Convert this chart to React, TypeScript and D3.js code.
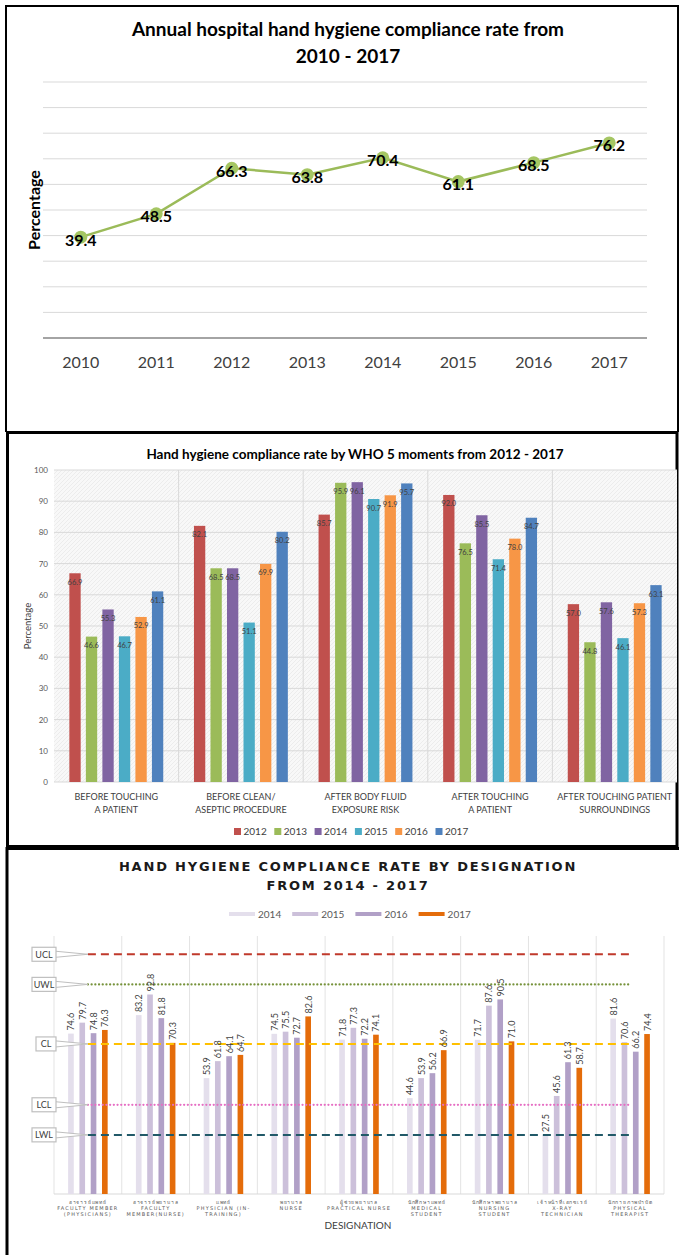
import React, { useEffect, useRef } from "react";
import * as d3 from "d3";

// chart 1: annual rate
const years = ["2010", "2011", "2012", "2013", "2014", "2015", "2016", "2017"];
const annualRate = [39.4, 48.5, 66.3, 63.8, 70.4, 61.1, 68.5, 76.2];

// chart 2: WHO 5 moments
const moments = [
  ["BEFORE TOUCHING", "A PATIENT"],
  ["BEFORE CLEAN/", "ASEPTIC PROCEDURE"],
  ["AFTER BODY FLUID", "EXPOSURE RISK"],
  ["AFTER TOUCHING", "A PATIENT"],
  ["AFTER TOUCHING PATIENT", "SURROUNDINGS"],
];
const momentYears = ["2012", "2013", "2014", "2015", "2016", "2017"];
const moment2012 = [66.9, 82.1, 85.7, 92.0, 57.0];
const moment2013 = [46.6, 68.5, 95.9, 76.5, 44.8];
const moment2014 = [55.3, 68.5, 96.1, 85.5, 57.6];
const moment2015 = [46.7, 51.1, 90.7, 71.4, 46.1];
const moment2016 = [52.9, 69.9, 91.9, 78.0, 57.3];
const moment2017 = [61.1, 80.2, 95.7, 84.7, 63.1];
const momentColors = ["#c0504d", "#9bbb59", "#8064a2", "#4bacc6", "#f79646", "#4f81bd"];

// chart 3: by designation
const designations = [
  ["อาจารย์แพทย์", "FACULTY MEMBER", "(PHYSICIANS)"],
  ["อาจารย์พยาบาล", "FACULTY", "MEMBER(NURSE)"],
  ["แพทย์", "PHYSICIAN (IN-", "TRAINING)"],
  ["พยาบาล", "NURSE"],
  ["ผู้ช่วยพยาบาล", "PRACTICAL NURSE"],
  ["นักศึกษาแพทย์", "MEDICAL", "STUDENT"],
  ["นักศึกษาพยาบาล", "NURSING", "STUDENT"],
  ["เจ้าหน้าที่เอกซเรย์", "X-RAY", "TECHNICIAN"],
  ["นักกายภาพบำบัด", "PHYSICAL", "THERAPIST"],
];
const desigYears = ["2014", "2015", "2016", "2017"];
const desig2014 = [74.6, 83.2, 53.9, 74.5, 71.8, 44.6, 71.7, 27.5, 81.6];
const desig2015 = [79.7, 92.8, 61.8, 75.5, 77.3, 53.9, 87.6, 45.6, 70.6];
const desig2016 = [74.8, 81.8, 64.1, 72.7, 72.2, 56.2, 90.5, 61.3, 66.2];
const desig2017 = [76.3, 70.3, 64.7, 82.6, 74.1, 66.9, 71.0, 58.7, 74.4];
const desigColors = ["#e4dfec", "#ccc0da", "#b1a0c7", "#e46c0a"];

const limitNames = ["UCL", "UWL", "CL", "LCL", "LWL"];
const limitValues = [111.5, 97.5, 69.8, 41.5, 27.5];
const limitColors = ["#c0392b", "#77933c", "#ffc000", "#e66fc4", "#215968"];
const limitDash = ["8,5", "0.1,3.6", "8,5", "0.1,3.6", "8,5"];

const SANS = "Lato, 'Open Sans', sans-serif";

function drawAnnual(svg: any) {
  const g = svg.append("g");
  g.append("path")
    .attr("d", "M6,432 V6 H678 V432")
    .attr("fill", "none")
    .attr("stroke", "#000")
    .attr("stroke-width", 2);

  const titles = ["Annual hospital hand hygiene compliance rate from", "2010 - 2017"];
  titles.forEach((t, i) => {
    g.append("text")
      .attr("x", 348)
      .attr("y", 36 + i * 27)
      .attr("text-anchor", "middle")
      .attr("font-family", SANS)
      .attr("font-weight", "bold")
      .attr("font-size", 19)
      .attr("fill", "#000")
      .text(t);
  });

  const x = d3.scaleBand().domain(years).range([43, 647]);
  const y = d3.scaleLinear().domain([0, 100]).range([338, 82]);

  // gridlines
  g.append("g")
    .selectAll("line")
    .data(d3.range(10, 101, 10))
    .enter()
    .append("line")
    .attr("x1", 43)
    .attr("x2", 647)
    .attr("y1", (d: number) => y(d))
    .attr("y2", (d: number) => y(d))
    .attr("stroke", "#d9d9d9")
    .attr("stroke-width", 1);
  g.append("line")
    .attr("x1", 43)
    .attr("x2", 647)
    .attr("y1", y(0))
    .attr("y2", y(0))
    .attr("stroke", "#868686")
    .attr("stroke-width", 1.5);

  g.append("g")
    .selectAll("text")
    .data(years)
    .enter()
    .append("text")
    .attr("x", (d: string) => x(d)! + x.bandwidth() / 2)
    .attr("y", 368)
    .attr("text-anchor", "middle")
    .attr("font-family", SANS)
    .attr("font-size", 16)
    .attr("fill", "#404040")
    .text((d: string) => d);

  g.append("text")
    .attr("transform", "translate(33,210) rotate(-90)")
    .attr("text-anchor", "middle")
    .attr("dominant-baseline", "central")
    .attr("font-family", SANS)
    .attr("font-weight", "bold")
    .attr("font-size", 16)
    .attr("fill", "#000")
    .text("Percentage");

  const pts = years.map((yr, i) => ({ yr, v: annualRate[i] }));
  const cx = (d: any) => x(d.yr)! + x.bandwidth() / 2;
  g.append("path")
    .datum(pts)
    .attr("fill", "none")
    .attr("stroke", "#9bbb59")
    .attr("stroke-width", 2.5)
    .attr(
      "d",
      d3
        .line()
        .x((d: any) => cx(d))
        .y((d: any) => y(d.v)) as any
    );
  g.append("g")
    .selectAll("circle")
    .data(pts)
    .enter()
    .append("circle")
    .attr("cx", cx)
    .attr("cy", (d: any) => y(d.v))
    .attr("r", 6.5)
    .attr("fill", "#a5c663");
  g.append("g")
    .selectAll("text")
    .data(pts)
    .enter()
    .append("text")
    .attr("x", cx)
    .attr("y", (d: any) => y(d.v) + 2)
    .attr("text-anchor", "middle")
    .attr("dominant-baseline", "central")
    .attr("font-family", SANS)
    .attr("font-weight", "bold")
    .attr("font-size", 16)
    .attr("fill", "#000")
    .text((d: any) => d.v.toFixed(1));
}

function drawMoments(svg: any) {
  const g = svg.append("g");
  const defs = svg.append("defs");
  const pat = defs
    .append("pattern")
    .attr("id", "hatch")
    .attr("width", 4)
    .attr("height", 4)
    .attr("patternUnits", "userSpaceOnUse");
  pat.append("rect").attr("width", 4).attr("height", 4).attr("fill", "#f8f8f8");
  pat.append("path").attr("d", "M0,4 L4,0 M-1,1 L1,-1 M3,5 L5,3").attr("stroke", "#ececec").attr("stroke-width", 1);

  g.append("rect")
    .attr("x", 7.5)
    .attr("y", 432.5)
    .attr("width", 669.5)
    .attr("height", 414)
    .attr("fill", "#fff")
    .attr("stroke", "#000")
    .attr("stroke-width", 3);

  g.append("text")
    .attr("x", 355)
    .attr("y", 459)
    .attr("text-anchor", "middle")
    .attr("font-family", SANS)
    .attr("font-weight", "bold")
    .attr("font-size", 13.5)
    .attr("fill", "#000")
    .text("Hand hygiene compliance rate by WHO 5 moments from 2012 - 2017");

  const ids = moments.map((_, i) => String(i));
  const x0 = d3.scaleBand().domain(ids).range([54, 677]);
  const x1 = d3
    .scaleBand()
    .domain(momentYears)
    .range([0, x0.bandwidth()])
    .paddingInner(0.315)
    .paddingOuter(0.93);
  const y = d3.scaleLinear().domain([0, 100]).range([782, 470]);

  g.append("rect")
    .attr("x", 54)
    .attr("y", 470)
    .attr("width", 623)
    .attr("height", 312)
    .attr("fill", "url(#hatch)");

  g.append("g")
    .selectAll("line")
    .data(d3.range(0, 101, 10))
    .enter()
    .append("line")
    .attr("x1", 54)
    .attr("x2", 677)
    .attr("y1", (d: number) => y(d))
    .attr("y2", (d: number) => y(d))
    .attr("stroke", "#d9d9d9");
  g.append("g")
    .selectAll("line")
    .data(ids.slice(1))
    .enter()
    .append("line")
    .attr("x1", (d: string) => x0(d)!)
    .attr("x2", (d: string) => x0(d)!)
    .attr("y1", 470)
    .attr("y2", 782)
    .attr("stroke", "#d9d9d9");

  const yAxis = g
    .append("g")
    .attr("transform", "translate(54,0)")
    .call(d3.axisLeft(y).tickValues(d3.range(0, 101, 10)).tickSize(0).tickPadding(6));
  yAxis.select(".domain").remove();
  yAxis
    .selectAll("text")
    .attr("font-family", SANS)
    .attr("font-size", 8)
    .attr("fill", "#595959");

  g.append("text")
    .attr("transform", "translate(27,626) rotate(-90)")
    .attr("text-anchor", "middle")
    .attr("dominant-baseline", "central")
    .attr("font-family", SANS)
    .attr("font-size", 9.5)
    .attr("fill", "#404040")
    .text("Percentage");

  const series = [moment2012, moment2013, moment2014, moment2015, moment2016, moment2017];
  const bars = ids.flatMap((id, ci) =>
    momentYears.map((yr, si) => ({ id, yr, v: series[si][ci], c: momentColors[si] }))
  );
  const bx = (d: any) => x0(d.id)! + x1(d.yr)!;
  g.append("g")
    .selectAll("rect")
    .data(bars)
    .enter()
    .append("rect")
    .attr("x", bx)
    .attr("y", (d: any) => y(d.v))
    .attr("width", x1.bandwidth())
    .attr("height", (d: any) => y(0) - y(d.v))
    .attr("fill", (d: any) => d.c);
  g.append("g")
    .selectAll("text")
    .data(bars)
    .enter()
    .append("text")
    .attr("x", (d: any) => bx(d) + x1.bandwidth() / 2)
    .attr("y", (d: any) => y(d.v) + 9)
    .attr("text-anchor", "middle")
    .attr("dominant-baseline", "central")
    .attr("font-family", SANS)
    .attr("font-size", 7.5)
    .attr("fill", "#404040")
    .text((d: any) => d.v.toFixed(1));

  ids.forEach((id, ci) => {
    moments[ci].forEach((line, li) => {
      g.append("text")
        .attr("x", x0(id)! + x0.bandwidth() / 2)
        .attr("y", 800 + li * 13)
        .attr("text-anchor", "middle")
        .attr("font-family", SANS)
        .attr("font-size", 9)
        .attr("fill", "#404040")
        .text(line);
    });
  });

  const leg = g.append("g");
  momentYears.forEach((yr, i) => {
    const lx = 234 + i * 40.3;
    leg.append("rect").attr("x", lx).attr("y", 828).attr("width", 7).attr("height", 7).attr("fill", momentColors[i]);
    leg
      .append("text")
      .attr("x", lx + 9.5)
      .attr("y", 835)
      .attr("font-family", SANS)
      .attr("font-size", 10)
      .attr("fill", "#404040")
      .text(yr);
  });
}

function drawDesignation(svg: any) {
  const g = svg.append("g");
  g.append("path")
    .attr("d", "M7,1255 V848.5 H679")
    .attr("fill", "none")
    .attr("stroke", "#000")
    .attr("stroke-width", 3);

  const titles = ["HAND HYGIENE COMPLIANCE RATE BY DESIGNATION", "FROM 2014 - 2017"];
  titles.forEach((t, i) => {
    g.append("text")
      .attr("x", 348)
      .attr("y", 871 + i * 19)
      .attr("text-anchor", "middle")
      .attr("font-family", "'DejaVu Sans', sans-serif")
      .attr("font-weight", "bold")
      .attr("font-size", 13)
      .attr("letter-spacing", 1.8)
      .attr("fill", "#1a1a1a")
      .text(t);
  });

  desigYears.forEach((yr, i) => {
    const lx = 229 + i * 63.2;
    g.append("line")
      .attr("x1", lx)
      .attr("x2", lx + 26)
      .attr("y1", 914)
      .attr("y2", 914)
      .attr("stroke", desigColors[i])
      .attr("stroke-width", 4);
    g.append("text")
      .attr("x", lx + 29)
      .attr("y", 917.5)
      .attr("font-family", SANS)
      .attr("font-size", 10)
      .attr("fill", "#595959")
      .text(yr);
  });

  const ids = designations.map((_, i) => String(i));
  const x0 = d3.scaleBand().domain(ids).range([54, 664]);
  const x1 = d3
    .scaleBand()
    .domain(desigYears)
    .range([0, x0.bandwidth()])
    .paddingInner(0.5)
    .paddingOuter(1.25);
  const y = d3.scaleLinear().domain([0, 120]).range([1194, 936]);

  g.append("g")
    .selectAll("line")
    .data(ids.concat(["end"]))
    .enter()
    .append("line")
    .attr("x1", (d: string) => (d === "end" ? 664 : x0(d)!))
    .attr("x2", (d: string) => (d === "end" ? 664 : x0(d)!))
    .attr("y1", 936)
    .attr("y2", 1194)
    .attr("stroke", "#e3e3e3");
  g.append("line")
    .attr("x1", 54)
    .attr("x2", 664)
    .attr("y1", 1194)
    .attr("y2", 1194)
    .attr("stroke", "#d9d9d9");

  const series = [desig2014, desig2015, desig2016, desig2017];
  const bars = ids.flatMap((id, ci) =>
    desigYears.map((yr, si) => ({ id, yr, v: series[si][ci], c: desigColors[si] }))
  );
  const bx = (d: any) => x0(d.id)! + x1(d.yr)!;
  g.append("g")
    .selectAll("rect")
    .data(bars)
    .enter()
    .append("rect")
    .attr("x", bx)
    .attr("y", (d: any) => y(d.v))
    .attr("width", x1.bandwidth())
    .attr("height", (d: any) => y(0) - y(d.v))
    .attr("fill", (d: any) => d.c);

  // control limit lines
  limitNames.forEach((name, i) => {
    const v = limitValues[i];
    const dotted = limitDash[i].startsWith("0.1");
    g.append("path")
      .datum(ids)
      .attr("fill", "none")
      .attr("stroke", limitColors[i])
      .attr("stroke-width", dotted ? 2.2 : 2)
      .attr("stroke-dasharray", limitDash[i])
      .attr("stroke-linecap", dotted ? "round" : "butt")
      .attr(
        "d",
        d3
          .line()
          .x((d: any) => x0(d)! + x0.bandwidth() / 2)
          .y(() => y(v)) as any
      );
    const ly = y(v);
    const lx = x0(ids[0])! + x0.bandwidth() / 2;
    const cy = ly;
    g.append("path")
      .attr("d", `M56,${cy - 3} L${lx},${ly} L56,${cy + 3}`)
      .attr("fill", "#fff")
      .attr("stroke", "#bfbfbf")
      .attr("stroke-width", 1);
    const w = name.length === 2 ? 20 : 24;
    g.append("rect")
      .attr("x", 56 - w)
      .attr("y", cy - 7)
      .attr("width", w)
      .attr("height", 14)
      .attr("fill", "#fff")
      .attr("stroke", "#bfbfbf")
      .attr("stroke-width", 1.2);
    g.append("text")
      .attr("x", 56 - w / 2)
      .attr("y", cy)
      .attr("text-anchor", "middle")
      .attr("dominant-baseline", "central")
      .attr("font-family", SANS)
      .attr("font-size", 9)
      .attr("fill", "#404040")
      .text(name);
  });

  g.append("g")
    .selectAll("text")
    .data(bars)
    .enter()
    .append("text")
    .attr("transform", (d: any) => `translate(${bx(d) + x1.bandwidth() / 2},${y(d.v) - 3}) rotate(-90)`)
    .attr("dominant-baseline", "central")
    .attr("font-family", SANS)
    .attr("font-size", 9)
    .attr("fill", "#404040")
    .text((d: any) => d.v.toFixed(1));

  ids.forEach((id, ci) => {
    designations[ci].forEach((line, li) => {
      g.append("text")
        .attr("x", x0(id)! + x0.bandwidth() / 2)
        .attr("y", 1204 + li * 6)
        .attr("text-anchor", "middle")
        .attr("font-family", "'DejaVu Sans', 'Noto Sans', sans-serif")
        .attr("font-size", 5)
        .attr("letter-spacing", li === 0 ? 0.8 : 1.2)
        .attr("fill", "#595959")
        .text(line);
    });
  });

  g.append("text")
    .attr("x", 358)
    .attr("y", 1229)
    .attr("text-anchor", "middle")
    .attr("font-family", SANS)
    .attr("font-size", 10)
    .attr("fill", "#404040")
    .text("DESIGNATION");
}

export default function App() {
  const ref = useRef<SVGSVGElement>(null);
  useEffect(() => {
    const svg = d3.select(ref.current);
    svg.selectAll("*").remove();
    drawAnnual(svg);
    drawMoments(svg);
    drawDesignation(svg);
  }, []);
  return (
    <svg
      ref={ref}
      width={679}
      height={1255}
      style={{ position: "absolute", left: 0, top: 0, display: "block", background: "#fff" }}
    />
  );
}
